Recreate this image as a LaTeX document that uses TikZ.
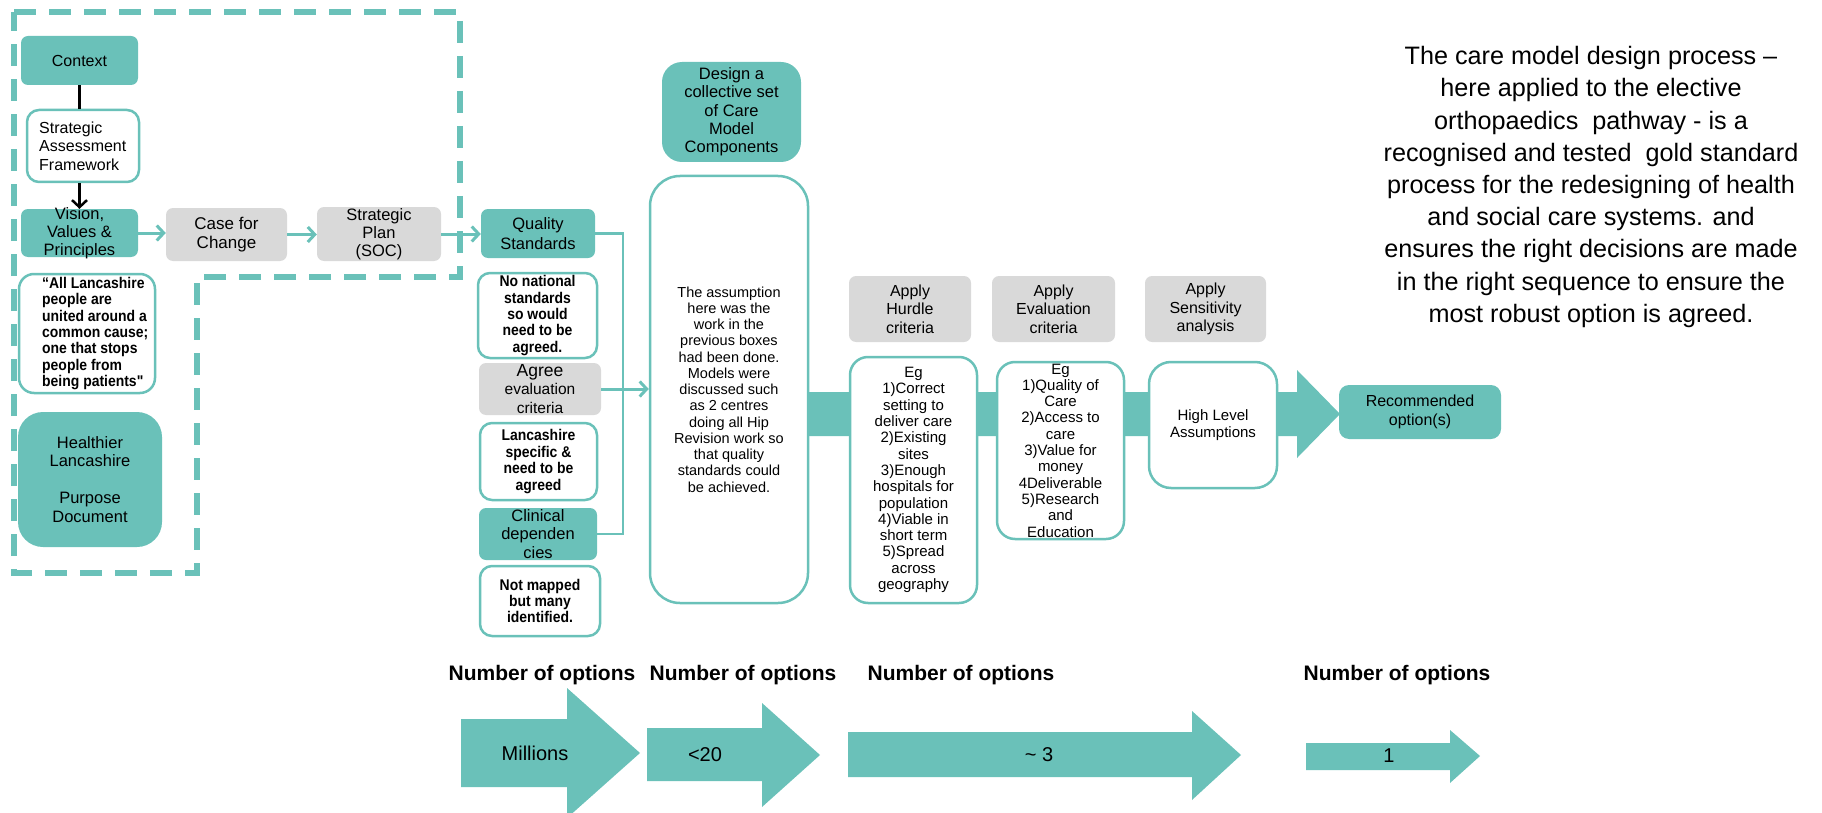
\documentclass[tikz,border=0pt]{standalone}
\usepackage{fontspec}
\setmainfont{Liberation Sans}
\newfontfamily\narrowfont[FakeStretch=0.9]{Liberation Sans}
\usetikzlibrary{arrows.meta}
\definecolor{teal0}{RGB}{106,193,185}
\definecolor{grey0}{RGB}{217,217,217}
\newcommand\setfs[2]{\fontsize{#1}{#2}\selectfont}
% box: name, style, x1, y1, x2, y2, text options, text
\newcommand\bx[8]{%
  \node[#2, minimum width={(#5)-(#3)}, minimum height={(#6)-(#4)}] (#1) at ({((#3)+(#5))/2},{((#4)+(#6))/2}) {};
  \node[txt, #7] (#1-t) at (#1.center) {#8};}
\begin{document}
\begin{tikzpicture}[x=1pt, y=-1pt,
  tbox/.style={fill=teal0, rounded corners=7pt, inner sep=0pt},
  gbox/.style={fill=grey0, rounded corners=7pt, inner sep=0pt},
  wbox/.style={fill=white, draw=teal0, line width=2.5pt, rounded corners=12pt, inner sep=0pt},
  txt/.style={inner sep=0pt, align=center, text=black, font=\setfs{16}{18.5}},
  bnarrow/.style={font=\setfs{15.5}{16.4}\narrowfont\bfseries},
  tarr/.style={draw=teal0, line width=3pt, -{Straight Barb[length=7pt,width=15pt]}},
  tline/.style={draw=teal0, line width=2.5pt},
  blk/.style={draw=black, line width=2.5pt},
  barr/.style={blk, -{Straight Barb[length=7pt,width=15pt]}},
  frame/.style={draw=teal0, line width=5.5pt, dash pattern=on 22pt off 13pt},
  bigarrow/.style={fill=teal0},
  numlbl/.style={inner sep=0pt, font=\setfs{21}{24}\bfseries},
  arrlbl/.style={inner sep=0pt, font=\setfs{20}{24}}]
\useasboundingbox (0,0) rectangle (1822,813);

% dashed outline around the strategic stage
\draw[frame] (14,12) -- (460,12) -- (460,277) -- (197,277) -- (197,573) -- (14,573) -- cycle;

% main flow band with its arrow head
\fill[bigarrow] (800,392) -- (1297,392) -- (1297,370) -- (1340,414) -- (1297,458) -- (1297,436) -- (800,436) -- cycle;

% left column
\bx{ctx}{tbox}{21}{36}{138}{85}{}{Context}
\bx{saf}{wbox}{27}{110}{139}{182}{align=left, anchor=west, xshift=-44pt}{Strategic\\Assessment\\Framework}
\bx{vis}{tbox}{21}{209}{138}{257}{font=\setfs{16.5}{18}}{Vision,\\Values \&\\Principles}
\bx{quote}{wbox, rounded corners=15pt}{19}{274}{155}{393}{bnarrow, align=left, anchor=west, xshift=-45pt}{“All Lancashire\\people are\\united around a\\common cause;\\one that stops\\people from\\being patients"}
\bx{hl}{tbox, rounded corners=25pt}{18}{412}{162}{547}{font=\setfs{16.5}{18.5}}{Healthier\\Lancashire\\[18.5pt]Purpose\\Document}

% first row of steps
\bx{cfc}{gbox}{166}{208}{287}{261}{font=\setfs{17}{18.5}}{Case for\\Change}
\bx{sp}{gbox}{317}{207}{441}{261}{font=\setfs{16.5}{18}}{Strategic\\Plan\\(SOC)}

% standards column
\bx{qs}{tbox}{481}{209}{595}{258}{font=\setfs{16.5}{19.5}}{Quality\\Standards}
\bx{nns}{wbox}{478}{273}{597}{358}{bnarrow}{No national\\standards\\so would\\need to be\\agreed.}
\bx{aec}{gbox}{479}{363}{601}{415}{font=\setfs{15.5}{18.5}}{{\setfs{17.5}{18.5}Agree}\\evaluation\\criteria}
\bx{lss}{wbox}{480}{423}{597}{500}{bnarrow}{Lancashire\\specific \&\\need to be\\agreed}
\bx{cd}{tbox}{479}{508}{597}{560}{font=\setfs{16.5}{18.5}}{Clinical\\dependen\\cies}
\bx{nm}{wbox}{480}{566}{600}{636}{bnarrow}{Not mapped\\but many\\identified.}

% care model components
\bx{des}{tbox, rounded corners=20pt}{662}{62}{801}{162}{font=\setfs{16.5}{18.3}}{Design a\\collective set\\of Care\\Model\\Components}
\bx{asm}{wbox, rounded corners=30pt}{650}{176}{808}{603}{font=\setfs{14.5}{16.25}}{The assumption\\here was the\\work in the\\previous boxes\\had been done.\\Models were\\discussed such\\as 2 centres\\doing all Hip\\Revision work so\\that quality\\standards could\\be achieved.}

% appraisal steps
\bx{ah}{gbox}{849}{276}{971}{342}{font=\setfs{16}{18.5}}{Apply\\Hurdle\\criteria}
\bx{ae}{gbox}{992}{276}{1115}{342}{font=\setfs{16}{18.5}}{Apply\\Evaluation\\criteria}
\bx{as}{gbox}{1145}{276}{1266}{342}{font=\setfs{16}{18.5}}{Apply\\Sensitivity\\analysis}
\bx{hw}{wbox, rounded corners=18pt}{850}{357}{977}{603}{font=\setfs{15}{16.3}}{Eg\\1)Correct\\setting to\\deliver care\\2)Existing\\sites\\3)Enough\\hospitals for\\population\\4)Viable in\\short term\\5)Spread\\across\\geography}
\bx{ew}{wbox, rounded corners=18pt}{997}{362}{1124}{539}{font=\setfs{15}{16.3}}{Eg\\1)Quality of\\Care\\2)Access to\\care\\3)Value for\\money\\4Deliverable\\5)Research\\and\\Education}
\bx{hla}{wbox, rounded corners=22pt}{1149}{362}{1277}{488}{font=\setfs{15}{16.5}}{High Level\\Assumptions}
\bx{rec}{tbox, rounded corners=10pt}{1339}{385}{1501}{439}{font=\setfs{16}{19}}{Recommended\\option(s)}

% connectors
\draw[blk] (ctx.south) -- (ctx.south |- saf.north);
\draw[barr] (ctx.south |- saf.south) -- (ctx.south |- vis.north);
\draw[tarr] (vis.east) -- (vis.east -| cfc.west);
\draw[tarr] (cfc.east) -- (cfc.east -| sp.west);
\draw[tarr] (sp.east) -- (sp.east -| qs.west);
\draw[tline] (qs.east) -- ++(28,0) |- (cd.east);
\draw[tarr] (aec.east) -- (aec.east -| asm.west);

% explanatory paragraph
\node[inner sep=0pt, align=center, font=\setfs{25.2}{32.2}] (desc) at (1591,187)
  {The care model design process –\\here applied to the elective\\orthopaedics~ pathway - is a\\recognised and tested~ gold standard\\process for the redesigning of health\\and social care systems. and\\ensures the right decisions are made\\in the right sequence to ensure the\\most robust option is agreed.};

% number of options along the process
\node[numlbl] (n1) at (542,675) {Number of options};
\node[numlbl] (n2) at (743,675) {Number of options};
\node[numlbl] (n3) at (961,675) {Number of options};
\node[numlbl] (n4) at (1397,675) {Number of options};

\fill[bigarrow] (461,719) -- (567,719) -- (567,688) -- (640,753) -- (567,818) -- (567,787) -- (461,787) -- cycle;
\fill[bigarrow] (647,728) -- (762,728) -- (762,703) -- (820,755) -- (762,807) -- (762,781) -- (647,781) -- cycle;
\fill[bigarrow] (848,732) -- (1192,732) -- (1192,711) -- (1241,755) -- (1192,800) -- (1192,777) -- (848,777) -- cycle;
\fill[bigarrow] (1306,743) -- (1450,743) -- (1450,730) -- (1480,756) -- (1450,783) -- (1450,770) -- (1306,770) -- cycle;

\node[arrlbl] (o1) at (535,753) {Millions};
\node[arrlbl] (o2) at (705,755) {<20};
\node[arrlbl] (o3) at (1039,755) {\textasciitilde\ 3};
\node[arrlbl] (o4) at (1389,756) {1};
\end{tikzpicture}
\end{document}
